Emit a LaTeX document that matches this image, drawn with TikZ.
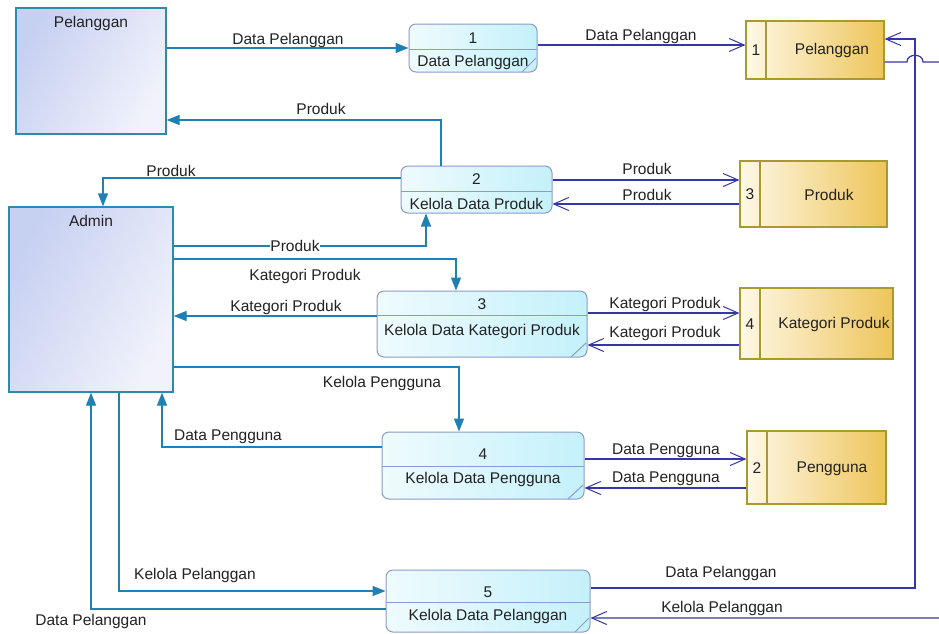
\documentclass[tikz,border=0pt]{standalone}
\usepackage{fontspec}
\setmainfont{Liberation Sans}
\usetikzlibrary{arrows.meta}

\definecolor{flowteal}{HTML}{1F80B4}
\definecolor{flowblue}{HTML}{3636A6}
\definecolor{eeborder}{HTML}{3088AA}
\definecolor{eefillA}{HTML}{C6D0F1}
\definecolor{eefillB}{HTML}{F1F2FB}
\definecolor{procborder}{HTML}{8C9BC9}
\definecolor{procfillA}{HTML}{EFFBFD}
\definecolor{procfillB}{HTML}{C4F1FB}
\definecolor{storeborder}{HTML}{A89A2E}
\definecolor{storefillA}{HTML}{FEF8E6}
\definecolor{storefillB}{HTML}{EEC55A}
\definecolor{txt}{HTML}{222222}

\tikzset{
  entity/.style={draw=eeborder, line width=1.2pt, shading=axis,
    left color=eefillA, right color=eefillB, shading angle=60,
    inner sep=0pt, anchor=center},
  proc/.style={draw=procborder, line width=1pt, rounded corners=7pt,
    left color=procfillA, right color=procfillB, inner sep=0pt},
  procline/.style={draw=procborder, line width=1pt},
  store/.style={draw=storeborder, line width=1.2pt,
    left color=storefillA, right color=storefillB, inner sep=0pt},
  storeline/.style={draw=storeborder, line width=1.2pt},
  lbl/.style={text=txt, inner sep=1pt, yshift=-1.5pt},
  tflow/.style={draw=flowteal, line width=1.2pt,
    -{Triangle[length=13pt,width=10pt]}},
  bflow/.style={draw=flowblue, line width=1.2pt,
    -{Straight Barb[length=15pt,width=13pt,line width=1pt]}},
}

\begin{document}
\begin{tikzpicture}[x=1pt, y=-1pt, font=\fontsize{15.5}{18}\selectfont]
\path[use as bounding box, clip] (0,0) rectangle (939,633);
\fill[white] (0,0) rectangle (939,633);

% external entities
\node[entity, minimum width=150pt, minimum height=126pt] (pel) at (91,71) {};
\node[lbl] (pelT) at (91,22) {Pelanggan};
\node[entity, minimum width=164pt, minimum height=185pt] (adm) at (91,299.5) {};
\node[lbl] (admT) at (91,219) {Admin};

% processes
\node[proc, minimum width=128pt, minimum height=48pt] (p1) at (473,48) {};
\draw[procline] (409,49) -- (537,49);
\draw[procline] (536,58) -- (522,72);
\node[lbl] (p1n) at (473,36.5) {1};
\node[lbl] (p1t) at (473,61) {Data Pelanggan};

\node[proc, minimum width=151pt, minimum height=47pt] (p2) at (476.5,189.5) {};
\draw[procline] (401,191) -- (552,191);
\node[lbl] (p2n) at (476.5,178) {2};
\node[lbl] (p2t) at (476.5,202.5) {Kelola Data Produk};

\node[proc, minimum width=210pt, minimum height=66pt] (p3) at (482,324) {};
\draw[procline] (377,315) -- (587,315);
\draw[procline] (586,343) -- (571,357);
\node[lbl] (p3n) at (482,303) {3};
\node[lbl] (p3t) at (482,330) {Kelola Data Kategori Produk};

\node[proc, minimum width=202pt, minimum height=67pt] (p4) at (483,465.5) {};
\draw[procline] (382,466) -- (584,466);
\draw[procline] (583,485) -- (568,499);
\node[lbl] (p4n) at (483,453) {4};
\node[lbl] (p4t) at (483,478) {Kelola Data Pengguna};

\node[proc, minimum width=204pt, minimum height=62pt] (p5) at (488,601) {};
\draw[procline] (386,602) -- (590,602);
\draw[procline] (589,618) -- (575,632);
\node[lbl] (p5n) at (488,591) {5};
\node[lbl] (p5t) at (488,615) {Kelola Data Pelanggan};

% data stores
\node[store, minimum width=138pt, minimum height=58pt] (ds1) at (815,50) {};
\draw[storeline] (766,21) -- (766,79);
\node[lbl] (ds1n) at (756,49) {1};
\node[lbl] (ds1t) at (832,49) {Pelanggan};

\node[store, minimum width=147pt, minimum height=66pt] (ds3) at (813.5,194) {};
\draw[storeline] (760,161) -- (760,227);
\node[lbl] (ds3n) at (750,193) {3};
\node[lbl] (ds3t) at (829,193) {Produk};

\node[store, minimum width=153pt, minimum height=71pt] (ds4) at (816.5,323.5) {};
\draw[storeline] (760,288) -- (760,359);
\node[lbl] (ds4n) at (750,323) {4};
\node[lbl] (ds4t) at (834,323) {Kategori Produk};

\node[store, minimum width=139pt, minimum height=73pt] (ds2) at (816.5,467.5) {};
\draw[storeline] (767,431) -- (767,504);
\node[lbl] (ds2n) at (757,467) {2};
\node[lbl] (ds2t) at (832,467) {Pengguna};

% flows between entities and processes
\draw[tflow] (pel.east |- 0,48) -- (p1.west |- 0,48);
\node[lbl] (f1) at (288,39) {Data Pelanggan};

\draw[tflow] (p2.north -| 441,0) |- (pel.east |- 0,120);
\node[lbl] (f2) at (321,107) {Produk};

\draw[tflow] (p2.west |- 0,178) -| (adm.north -| 103,0);
\node[lbl] (f3) at (171,169) {Produk};

\draw[tflow] (adm.east |- 0,246) -| (p2.south -| 426,0);
\node[lbl, fill=white, inner sep=0.5pt] (f4) at (295,244) {Produk};

\draw[tflow] (adm.east |- 0,259) -| (p3.north -| 456,0);
\node[lbl] (f5) at (305,275) {Kategori Produk};

\draw[tflow] (p3.west |- 0,316) -- (adm.east |- 0,316);
\node[lbl] (f6) at (286,306) {Kategori Produk};

\draw[tflow] (adm.east |- 0,367) -| (p4.north -| 459,0);
\node[lbl] (f7) at (382,382) {Kelola Pengguna};

\draw[tflow] (p4.west |- 0,447) -| (adm.south -| 162,0);
\node[lbl] (f8) at (228,435) {Data Pengguna};

\draw[tflow] (adm.south -| 119,0) |- (p5.west |- 0,591);
\node[lbl] (f9) at (195,574) {Kelola Pelanggan};

\draw[tflow] (p5.west |- 0,609) -| (adm.south -| 91,0);
\node[lbl] (f10) at (91,620) {Data Pelanggan};

% flows between processes and data stores
\draw[bflow] (p1.east |- 0,45) -- (ds1.west |- 0,45);
\node[lbl] (g1) at (641,35) {Data Pelanggan};

\draw[bflow] (p2.east |- 0,180) -- (ds3.west |- 0,180);
\node[lbl] (g2) at (647,167) {Produk};
\draw[bflow] (ds3.west |- 0,204) -- (p2.east |- 0,204);
\node[lbl] (g3) at (647,193) {Produk};

\draw[bflow] (p3.east |- 0,313) -- (ds4.west |- 0,313);
\node[lbl] (g4) at (665,303) {Kategori Produk};
\draw[bflow] (ds4.west |- 0,345) -- (p3.east |- 0,345);
\node[lbl] (g5) at (665,332) {Kategori Produk};

\draw[bflow] (p4.east |- 0,459) -- (ds2.west |- 0,459);
\node[lbl] (g6) at (666,449) {Data Pengguna};
\draw[bflow] (ds2.west |- 0,488) -- (p4.east |- 0,488);
\node[lbl] (g7) at (666,477) {Data Pengguna};

\draw[bflow] (p5.east |- 0,588) -| (915,39) -- (ds1.east |- 0,39);
\node[lbl] (g8) at (721,572) {Data Pelanggan};

\draw[bflow] (ds1.east |- 0,62) -- (907,62)
  .. controls (907,53) and (923,53) .. (923,62) -- (960,62)
  |- (p5.east |- 0,618);
\node[lbl] (g9) at (722,607) {Kelola Pelanggan};
\end{tikzpicture}
\end{document}
